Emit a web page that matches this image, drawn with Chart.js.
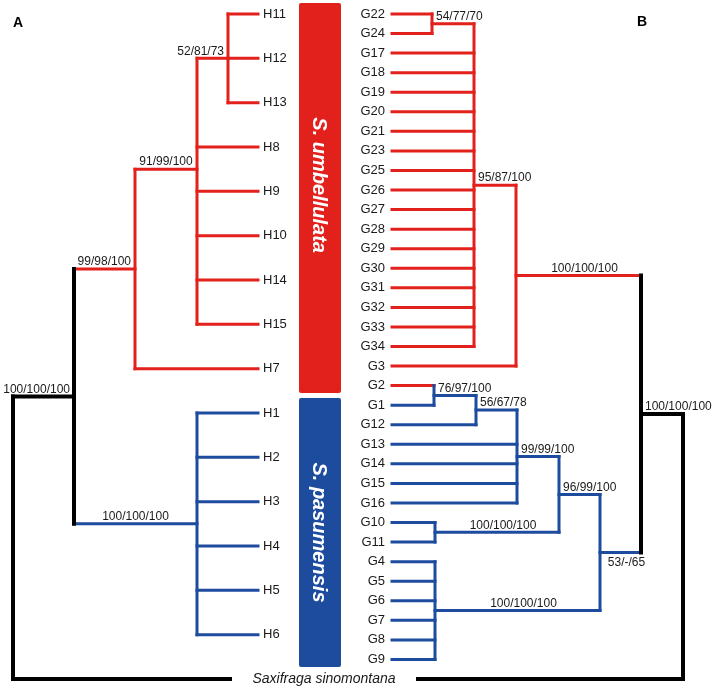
<!DOCTYPE html>
<html>
<head>
<meta charset="utf-8">
<script src="https://cdn.jsdelivr.net/npm/chart.js@4.4.0/dist/chart.umd.min.js"></script>
<style>
  html, body { margin: 0; padding: 0; background: #fff; }
  #wrap { width: 714px; height: 690px; position: relative; }
</style>
</head>
<body>
<div id="wrap"><canvas id="tree"></canvas></div>
<script>
// ---- tree A (haplotypes), tips listed top to bottom ----
const leftTips = ['H11','H12','H13','H8','H9','H10','H14','H15','H7','H1','H2','H3','H4','H5','H6'];
const leftTipSpecies = ['u','u','u','u','u','u','u','u','u','p','p','p','p','p','p'];
const leftTipDepth = 258;
const leftOutDepth = 230;
const leftNodes = ['A0','A1','A2','A3','A4','A5'];
const leftNodeDepth = [228, 197, 135, 197, 74, 13];
const leftNodeKids = [
  ['H11','H12','H13'],
  ['A0','H8','H9','H10','H14','H15'],
  ['A1','H7'],
  ['H1','H2','H3','H4','H5','H6'],
  ['A2','A3'],
  ['A4','OUT']
];
const leftNodeSupport = ['52/81/73','91/99/100','99/98/100','100/100/100','100/100/100',''];
const leftNodeSpecies = ['u','u','u','p','',''];
const leftNodeRow = [null, 3.5, null, null, null, null]; // null = middle of children

// ---- tree B (genotypes) ----
const rightTips = ['G22','G24','G17','G18','G19','G20','G21','G23','G25','G26','G27','G28','G29','G30',
  'G31','G32','G33','G34','G3','G2','G1','G12','G13','G14','G15','G16','G10','G11','G4','G5','G6','G7','G8','G9'];
const rightTipSpecies = ['u','u','u','u','u','u','u','u','u','u','u','u','u','u','u','u','u','u','u','u',
  'p','p','p','p','p','p','p','p','p','p','p','p','p','p'];
const rightTipDepth = 392;
const rightOutDepth = 418;
const rightNodes = ['B0','B1','B2','B3','B4','B5','B6','B7','B8','B9','B10','B11'];
const rightNodeDepth = [432, 474, 516, 434, 476, 517, 435, 559, 435, 600, 641, 683];
const rightNodeKids = [
  ['G22','G24'],
  ['B0','G17','G18','G19','G20','G21','G23','G25','G26','G27','G28','G29','G30','G31','G32','G33','G34'],
  ['B1','G3'],
  ['G2','G1'],
  ['B3','G12'],
  ['B4','G13','G14','G15','G16'],
  ['G10','G11'],
  ['B5','B6'],
  ['G4','G5','G6','G7','G8','G9'],
  ['B7','B8'],
  ['B2','B9'],
  ['B10','OUT']
];
const rightNodeSupport = ['54/77/70','95/87/100','100/100/100','76/97/100','56/67/78','99/99/100',
  '100/100/100','96/99/100','100/100/100','53/-/65','100/100/100',''];
const rightNodeSpecies = ['u','u','u','p','p','p','p','p','p','p','',''];
const rightNodeRow = [null,null,null,null,null,null,null,null,null,null,null,null];

const outgroup = 'Saxifraga sinomontana';
const speciesNames = ['S. umbellulata', 'S. pasumensis'];

const colors = { u: '#e3211c', p: '#1d4c9f', '': '#000000' };
const FONT = '"Liberation Sans", Arial, sans-serif';

function buildTree(axis, tips, tipSp, tipDepth, outDepth, nodes, depth, kids, support, sp, rowFix) {
  const pos = {};
  tips.forEach((t, i) => pos[t] = { x: tipDepth, row: i, sp: tipSp[i] });
  pos.OUT = { x: outDepth, row: tips.length, sp: '' };
  const segs = [];
  const nodeInfo = [];
  nodes.forEach((n, i) => {
    const ks = kids[i].map(k => pos[k]);
    const r0 = ks[0].row, r1 = ks[ks.length - 1].row;
    const row = rowFix[i] != null ? rowFix[i] : (r0 + r1) / 2;
    pos[n] = { x: depth[i], row: row, sp: sp[i] };
    segs.push({ axis, sp: sp[i], pts: [[depth[i], r0], [depth[i], r1]] });
    ks.forEach(k => segs.push({ axis, sp: k.sp, pts: [[depth[i], k.row], [k.x, k.row]] }));
    nodeInfo.push({ name: n, x: depth[i], row: row, text: support[i] });
  });
  // parent depth of each node, for placing support values on its stem
  nodes.forEach((n, i) => {
    const p = nodes.findIndex((m, j) => kids[j].includes(n));
    nodeInfo[i].parentX = p >= 0 ? depth[p] : null;
  });
  return { segs, nodeInfo, tips: tips.map((t, i) => ({ name: t, x: tipDepth, row: i })) };
}

const treeA = buildTree('yL', leftTips, leftTipSpecies, leftTipDepth, leftOutDepth,
  leftNodes, leftNodeDepth, leftNodeKids, leftNodeSupport, leftNodeSpecies, leftNodeRow);
const treeB = buildTree('yR', rightTips, rightTipSpecies, rightTipDepth, rightOutDepth,
  rightNodes, rightNodeDepth, rightNodeKids, rightNodeSupport, rightNodeSpecies, rightNodeRow);

const datasets = treeA.segs.concat(treeB.segs).map(s => ({
  data: s.pts.map(p => ({ x: p[0], y: p[1] })),
  yAxisID: s.axis,
  showLine: true,
  borderColor: colors[s.sp],
  borderWidth: s.sp === '' ? 4 : 3,
  borderCapStyle: 'square',
  pointRadius: 0,
  pointHoverRadius: 0,
  clip: false
}));

const treeText = {
  id: 'treeText',
  afterDatasetsDraw(chart) {
    const ctx = chart.ctx;
    const sx = chart.scales.x, yl = chart.scales.yL, yr = chart.scales.yR;
    ctx.save();

    // species bands between the trees
    const bands = [[-0.25, 8.55], [8.66, 14.73]];
    bands.forEach((b, i) => {
      const x0 = sx.getPixelForValue(299), x1 = sx.getPixelForValue(341);
      const y0 = yl.getPixelForValue(b[0]), y1 = yl.getPixelForValue(b[1]);
      ctx.fillStyle = colors[i === 0 ? 'u' : 'p'];
      ctx.beginPath();
      ctx.roundRect(x0, y0, x1 - x0, y1 - y0, 2);
      ctx.fill();
      ctx.save();
      ctx.translate((x0 + x1) / 2, i === 0 ? yl.getPixelForValue(3.86) : (y0 + y1) / 2);
      ctx.rotate(Math.PI / 2);
      ctx.fillStyle = '#fff';
      ctx.font = 'italic bold 20px ' + FONT;
      ctx.textAlign = 'center';
      ctx.textBaseline = 'middle';
      ctx.fillText(speciesNames[i], 0, 1);
      ctx.restore();
    });

    ctx.fillStyle = '#1a1a1a';
    // tip names
    ctx.font = '13px ' + FONT;
    ctx.textBaseline = 'middle';
    ctx.textAlign = 'left';
    treeA.tips.forEach(t => ctx.fillText(t.name, sx.getPixelForValue(t.x) + 5, yl.getPixelForValue(t.row)));
    ctx.textAlign = 'right';
    treeB.tips.forEach(t => ctx.fillText(t.name, sx.getPixelForValue(t.x) - 7, yr.getPixelForValue(t.row)));

    // outgroup
    ctx.font = 'italic 14px ' + FONT;
    ctx.textAlign = 'center';
    ctx.fillText(outgroup, sx.getPixelForValue((leftOutDepth + rightOutDepth) / 2), yl.getPixelForValue(leftTips.length));

    // support values
    ctx.font = '12px ' + FONT;
    ctx.textAlign = 'left';
    treeA.nodeInfo.forEach(n => {
      if (!n.text || n.parentX == null) return;
      const w = ctx.measureText(n.text).width;
      const px = sx.getPixelForValue(n.x), pp = sx.getPixelForValue(n.parentX);
      let left = (px + pp) / 2 - w / 2;
      if (left + w > px - 4) left = px - 4 - w;
      ctx.textBaseline = 'bottom';
      ctx.fillText(n.text, left, yl.getPixelForValue(n.row) - 1);
    });
    treeB.nodeInfo.forEach(n => {
      if (!n.text || n.parentX == null) return;
      const w = ctx.measureText(n.text).width;
      const px = sx.getPixelForValue(n.x), pp = sx.getPixelForValue(n.parentX);
      let left = (px + pp) / 2 + 6 - w / 2;
      if (left < px + 4) left = px + 4;
      const below = n.name === 'B9';
      ctx.textBaseline = below ? 'top' : 'bottom';
      ctx.fillText(n.text, left, yr.getPixelForValue(n.row) + (below ? 4 : -1));
    });

    // panel letters
    ctx.font = 'bold 14px ' + FONT;
    ctx.fillStyle = '#000';
    ctx.textAlign = 'center';
    ctx.textBaseline = 'middle';
    ctx.fillText('A', 18, 23);
    ctx.fillText('B', 642, 22);
    ctx.restore();
  }
};

new Chart(document.getElementById('tree'), {
  type: 'scatter',
  data: { datasets: datasets },
  options: {
    responsive: true,
    maintainAspectRatio: false,
    animation: false,
    events: [],
    layout: { padding: { top: 14, bottom: 11, left: 0, right: 0 } },
    plugins: { legend: { display: false }, tooltip: { enabled: false } },
    scales: {
      x: { type: 'linear', min: 0, max: 714, display: false },
      yL: { type: 'linear', position: 'left', min: 0, max: leftTips.length, reverse: true, display: false },
      yR: { type: 'linear', position: 'right', min: 0, max: rightTips.length, reverse: true, display: false }
    }
  },
  plugins: [treeText]
});
</script>
</body>
</html>
